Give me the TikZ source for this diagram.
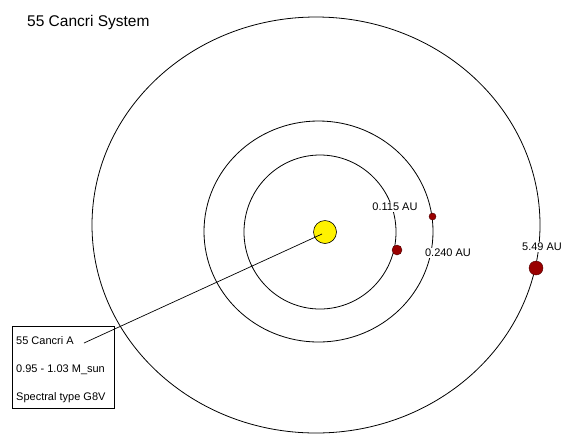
\documentclass[tikz,border=0pt]{standalone}
\usepackage{fontspec}
\setmainfont{Liberation Sans}
\begin{document}
\begin{tikzpicture}[x=1pt,y=-1pt,
  orbit/.style={draw=black,line width=0.8pt},
  planet/.style={circle,draw=black!70!red,fill=red!60!black,inner sep=0pt,line width=0.4pt},
  lbl/.style={font=\fontsize{11}{13}\selectfont,inner xsep=0.5pt,inner ysep=1.5pt,fill=white},
  boxtxt/.style={font=\fontsize{11}{13}\selectfont,inner sep=0pt,anchor=west}]
\useasboundingbox (0,0) rectangle (577,440);
\fill[white] (0,0) rectangle (577,440);
% title
\node[font=\fontsize{15.5}{18}\selectfont,anchor=west,inner sep=0pt] (title) at (27,22) {55 Cancri System};
% orbits
\draw[orbit] (316,225) ellipse [x radius=224, y radius=208];
\draw[orbit] (318.5,231.5) ellipse [x radius=114.5, y radius=110.5];
\draw[orbit] (320,232) ellipse [x radius=76, y radius=77];
% star
\node[circle,draw=black,fill=yellow,minimum size=23pt,inner sep=0pt,line width=0.6pt] (star) at (325,232) {};
% planets
\node[planet,minimum size=10pt] (p1) at (397,250) {};
\node[planet,minimum size=7pt] (p2) at (432.5,216.5) {};
\node[planet,minimum size=14pt] (p3) at (536,268) {};
% labels
\node[lbl] (l1) at (395,207) {0.115 AU};
\node[lbl] (l2) at (448,253) {0.240 AU};
\node[lbl] (l3) at (542,247) {5.49 AU};
% info box
\node[draw=black,line width=0.8pt,minimum width=102pt,minimum height=82pt,inner sep=0pt] (box) at (63,367) {};
\node[boxtxt] (t1) at (16,341) {55 Cancri A};
\node[boxtxt] (t2) at (16,370) {0.95 - 1.03 M\_sun};
\node[boxtxt] (t3) at (16,398) {Spectral type G8V};
% pointer
\coordinate (pend) at (84,343);
\draw[line width=0.7pt] (star.center) ++(-3,2) -- (pend);
\end{tikzpicture}
\end{document}
